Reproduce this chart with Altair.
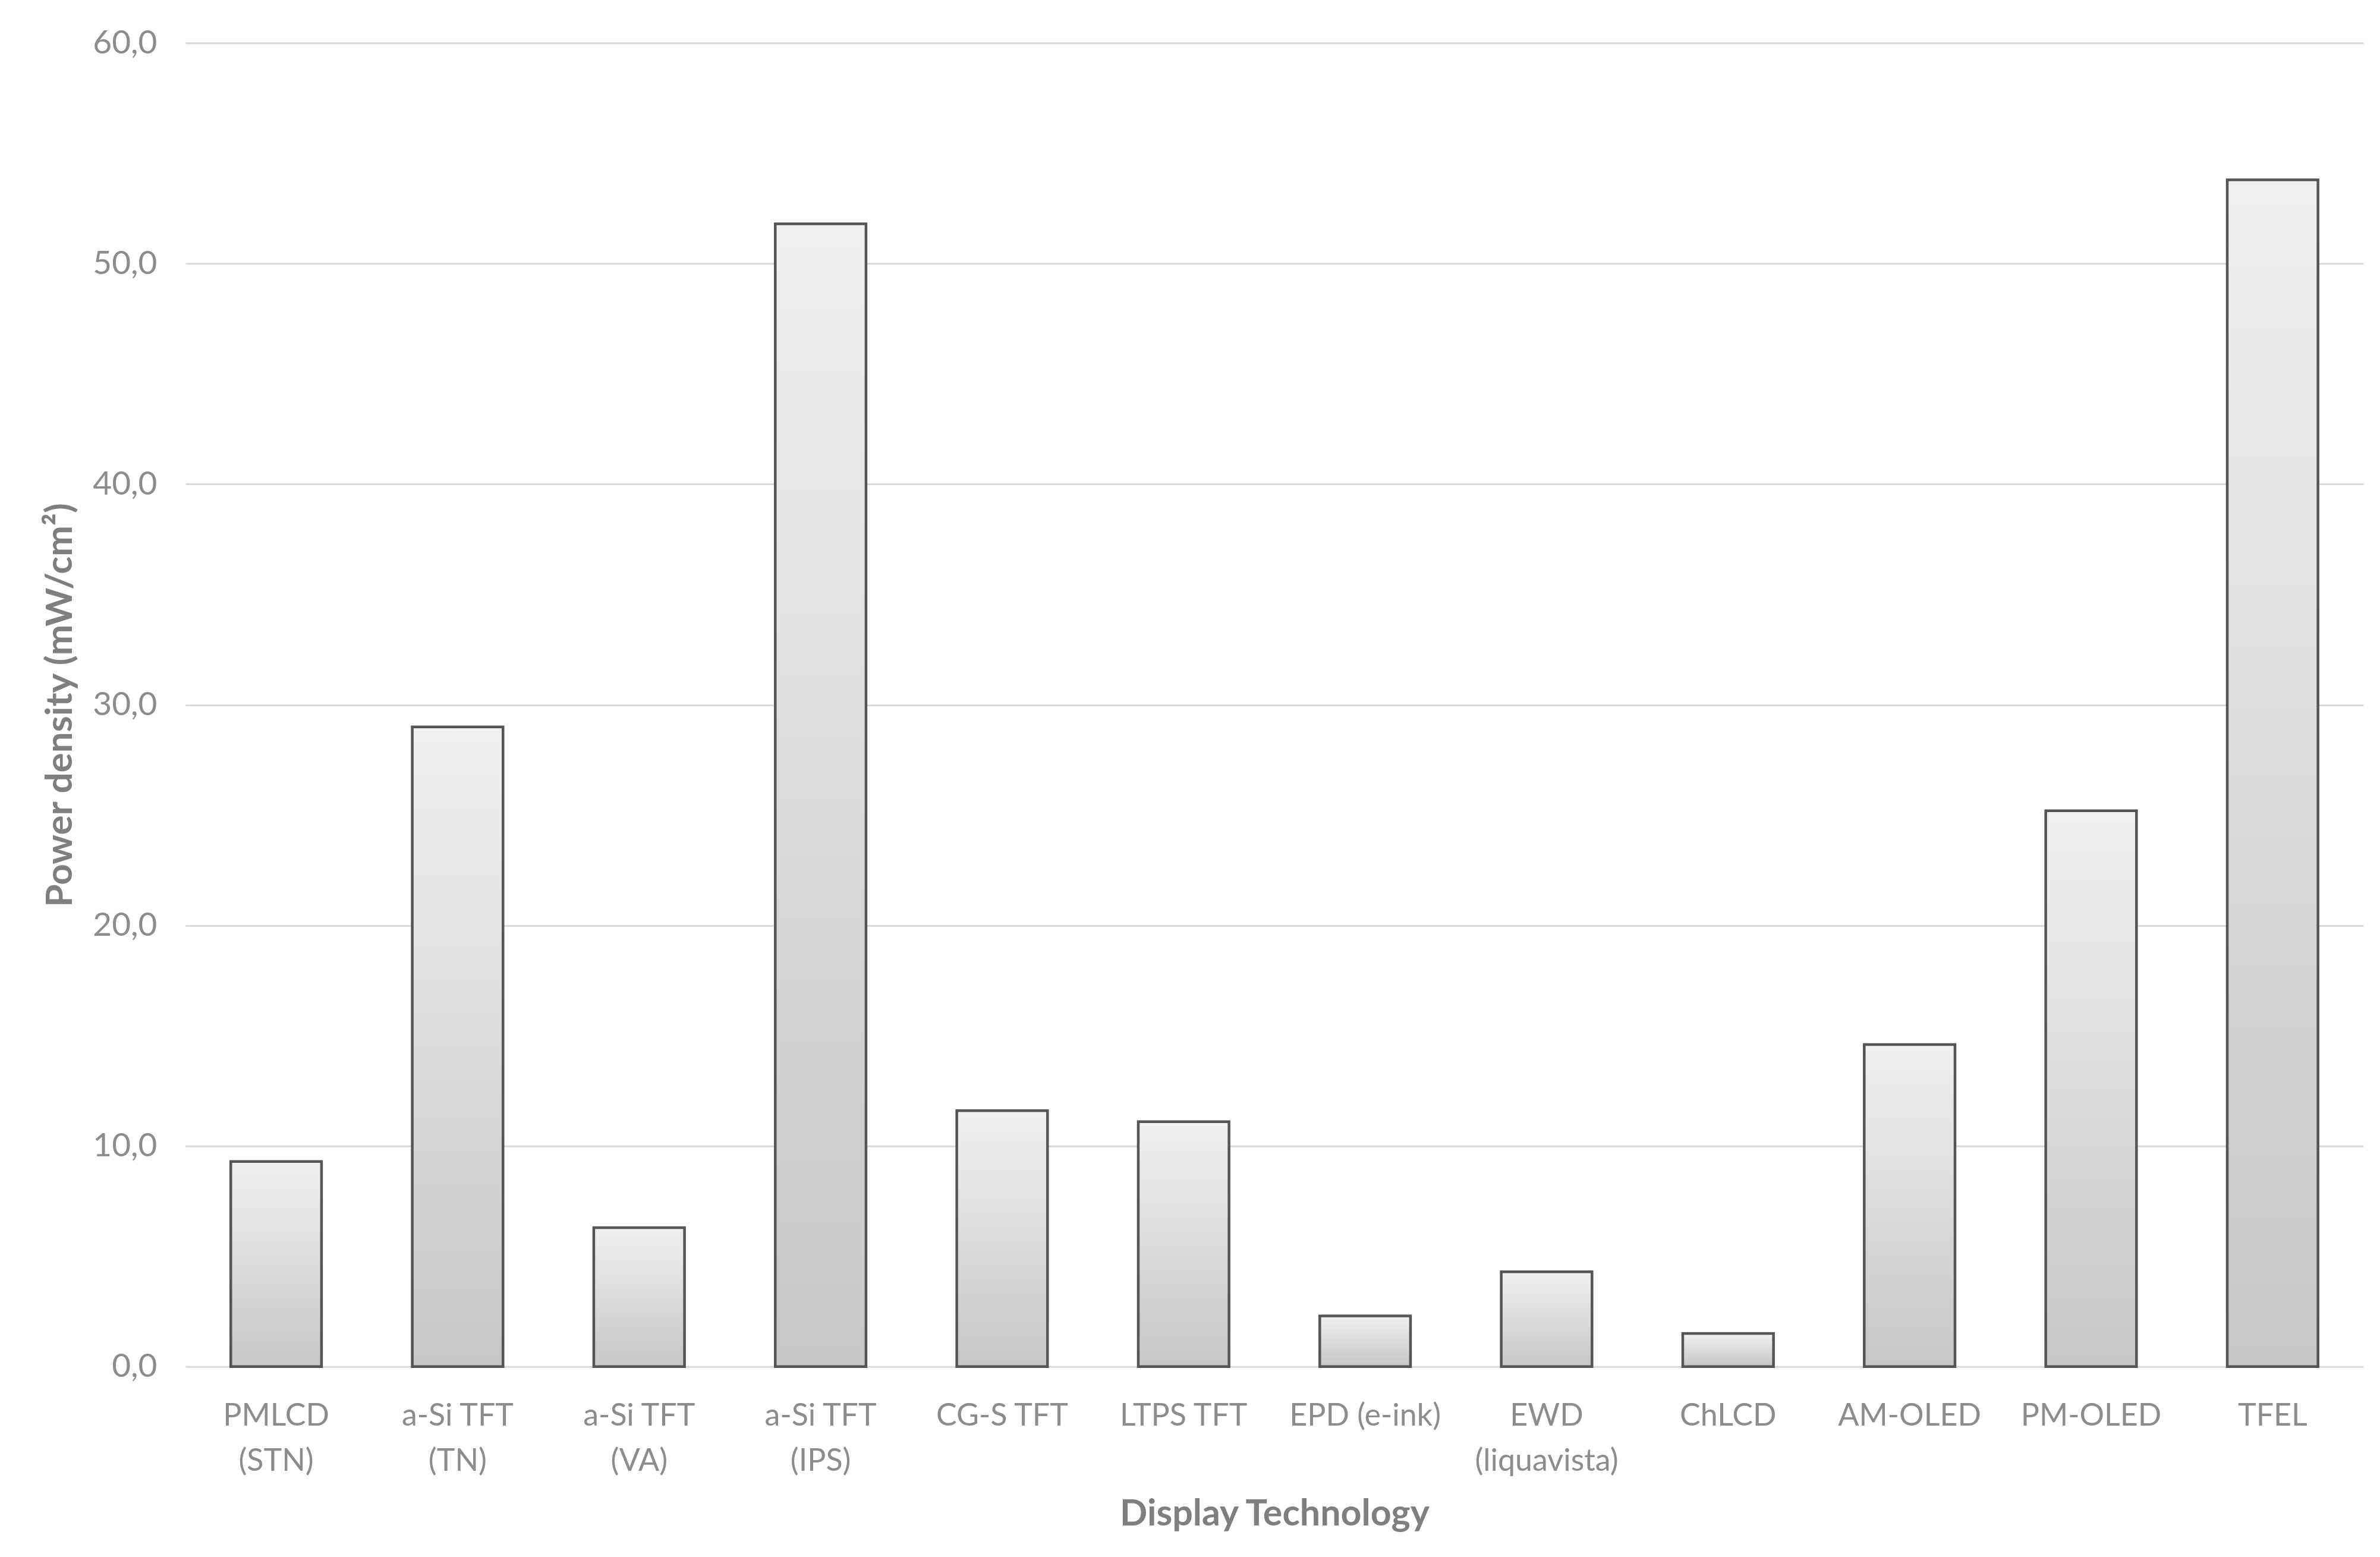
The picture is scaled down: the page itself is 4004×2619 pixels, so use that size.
import altair as alt
import pandas as pd

categories = ["PMLCD|(STN)", "a-Si TFT|(TN)", "a-Si TFT|(VA)", "a-Si TFT|(IPS)", "CG-S TFT",
              "LTPS TFT", "EPD (e-ink)", "EWD|(liquavista)", "ChLCD", "AM-OLED", "PM-OLED", "TFEL"]
values = [9.3, 29.0, 6.3, 51.8, 11.6, 11.1, 2.3, 4.3, 1.5, 14.6, 25.2, 53.8]
y_ticks = [0, 10, 20, 30, 40, 50, 60]

df = pd.DataFrame({"tech": categories, "power": values})

FONT = "Lato"
W, H = 3665, 2227

grad = alt.Gradient(
    gradient="linear", x1=0, y1=0, x2=0, y2=1,
    stops=[alt.GradientStop(color="#f0f0f0", offset=0),
           alt.GradientStop(color="#c6c6c6", offset=1)],
)

chart = alt.Chart(df).mark_bar(
    fill=grad, stroke="#555555", strokeWidth=4.5, strokeJoin="miter"
).encode(
    x=alt.X("tech:N", sort=categories,
            scale=alt.Scale(paddingInner=0.5, paddingOuter=0.25),
            axis=alt.Axis(title="Display Technology", labelAngle=0,
                          labelExpr="split(datum.label, '|')",
                          labelFont=FONT, labelFontSize=52, labelColor="#8c8c8c",
                          labelLineHeight=76, labelPadding=58, labelBaseline="top",
                          labelLimit=0,
                          domain=False, ticks=False, grid=False,
                          titleFont=FONT, titleFontSize=61, titleFontWeight="bold",
                          titleColor="#7f7f7f", titleX=W / 2, titleY=249,
                          titleBaseline="middle", titleAlign="center")),
    y=alt.Y("power:Q", scale=alt.Scale(domain=[0, 60], nice=False),
            axis=alt.Axis(title="Power density (mW/cm²)", values=y_ticks,
                          labelExpr="replace(format(datum.value, '.1f'), '.', ',')",
                          labelFont=FONT, labelFontSize=55, labelColor="#8c8c8c",
                          labelPadding=48, domain=False, ticks=False,
                          gridColor="#d9d9d9", gridWidth=3,
                          titleFont=FONT, titleFontSize=62, titleFontWeight="bold",
                          titleColor="#7f7f7f", titleAngle=-90, titleX=-210,
                          titleY=H / 2, titleBaseline="middle", titleAlign="center")),
).properties(
    width=W, height=H,
    background="white",
    autosize=alt.AutoSizeParams(type="none"),
    padding={"left": 304, "top": 64, "right": 20, "bottom": 313},
).configure_view(stroke=None)

chart.save("out.html", embed_options={"renderer": "svg", "actions": False})
